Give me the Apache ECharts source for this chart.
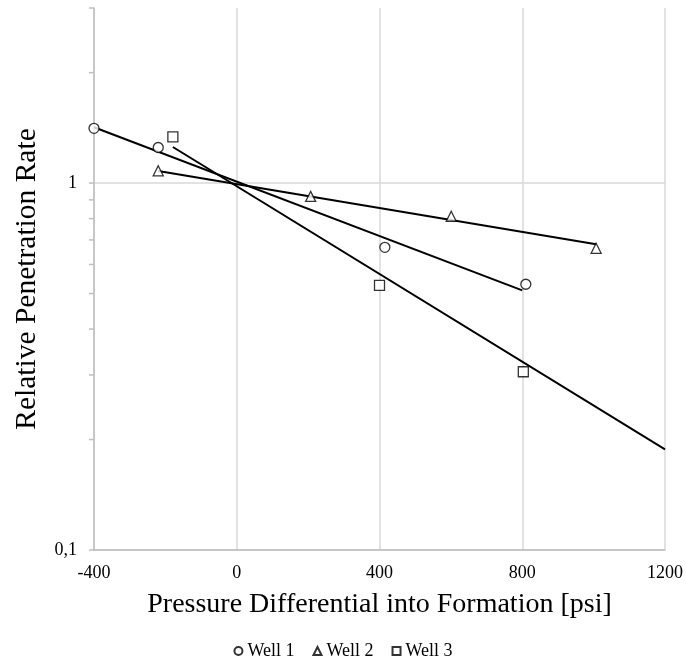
<!DOCTYPE html>
<html>
<head>
<meta charset="utf-8">
<script src="https://cdn.jsdelivr.net/npm/echarts@6/dist/echarts.min.js"></script>
<style>html,body{margin:0;padding:0;background:#fff;}#c{width:686px;height:661px;}</style>
</head>
<body>
<div id="c"></div>
<script>
// Measured points
const well1X = [-400, -220, 415, 810];
const well1Y = [1.41, 1.25, 0.668, 0.53];
const well2X = [-220, 207, 601, 1007];
const well2Y = [1.08, 0.92, 0.812, 0.664];
const well3X = [-179, 400, 803];
const well3Y = [1.336, 0.526, 0.306];
// Exponential trend line endpoints
const trend1X = [-400, 800];
const trend1Y = [1.42, 0.51];
const trend2X = [-220, 1007];
const trend2Y = [1.078, 0.681];
const trend3X = [-179, 1200];
const trend3Y = [1.254, 0.188];
// Axis ticks
const xTicks = [-400, 0, 400, 800, 1200];
const yLabels = [0.1, 1];
const yMinorTicks = [0.1, 0.2, 0.3, 0.4, 0.5, 0.6, 0.7, 0.8, 0.9, 1, 2, 3];

const zip = (xs, ys) => xs.map((x, i) => [x, ys[i]]);
const FONT = 'Liberation Serif';

const chart = echarts.init(document.getElementById('c'));
const markerStyle = { color: '#fff', borderColor: '#000', borderWidth: 1.3 };
const trend = (xs, ys) => ({
  type: 'line', data: zip(xs, ys), showSymbol: false, symbol: 'none',
  lineStyle: { color: '#000', width: 2 }, silent: true, z: 3, animation: false
});

chart.setOption({
  animation: false,
  grid: { left: 94, right: 20, top: 8, bottom: 111 },
  xAxis: {
    type: 'value', min: -400, max: 1200, interval: 400,
    axisLine: { onZero: false, lineStyle: { color: '#bfbfbf', width: 1.5 } },
    axisTick: { show: false },
    splitLine: { show: true, lineStyle: { color: '#d9d9d9', width: 1.5 } },
    axisLabel: { color: '#000', fontFamily: FONT, fontSize: 18, margin: 14,
      formatter: v => xTicks.includes(v) ? String(v) : '' },
    name: 'Pressure Differential into Formation [psi]',
    nameLocation: 'middle', nameGap: 41,
    nameTextStyle: { color: '#000', fontFamily: FONT, fontSize: 28 }
  },
  yAxis: {
    type: 'log', min: 0.1, max: 3, logBase: 10,
    axisLine: { show: true, onZero: false, lineStyle: { color: '#bfbfbf', width: 1.5 } },
    axisTick: { show: false },
    splitLine: { show: true, showMaxLine: false, lineStyle: { color: '#d9d9d9', width: 1.5 } },
    axisLabel: { color: '#000', fontFamily: FONT, fontSize: 18, margin: 17, showMaxLabel: false,
      formatter: v => {
        const m = yLabels.find(t => Math.abs(t - v) < 1e-9);
        return m === undefined ? '' : String(m).replace('.', ',');
      } },
    name: 'Relative Penetration Rate',
    nameLocation: 'middle', nameGap: 52,
    nameTextStyle: { color: '#000', fontFamily: FONT, fontSize: 29.5 }
  },
  legend: {
    bottom: -4, left: 'center', itemWidth: 8, itemHeight: 8, itemGap: 18,
    data: ['Well 1', 'Well 2', 'Well 3'],
    textStyle: { color: '#000', fontFamily: FONT, fontSize: 18 }
  },
  series: [
    {
      type: 'custom', silent: true, clip: false, z: 1,
      data: yMinorTicks.map(v => [-400, v]),
      renderItem: (params, api) => {
        const p = api.coord([api.value(0), api.value(1)]);
        return { type: 'line', shape: { x1: p[0] - 5, y1: p[1], x2: p[0], y2: p[1] },
          style: { stroke: '#bfbfbf', lineWidth: 1.5 } };
      }
    },
    trend(trend1X, trend1Y),
    trend(trend2X, trend2Y),
    trend(trend3X, trend3Y),
    { name: 'Well 1', type: 'scatter', symbol: 'circle', symbolSize: 10, data: zip(well1X, well1Y), itemStyle: markerStyle, z: 5 },
    { name: 'Well 2', type: 'scatter', symbol: 'triangle', symbolSize: 10, data: zip(well2X, well2Y), itemStyle: markerStyle, z: 5 },
    { name: 'Well 3', type: 'scatter', symbol: 'rect', symbolSize: 10, data: zip(well3X, well3Y), itemStyle: markerStyle, z: 5 }
  ]
});
</script>
</body>
</html>
